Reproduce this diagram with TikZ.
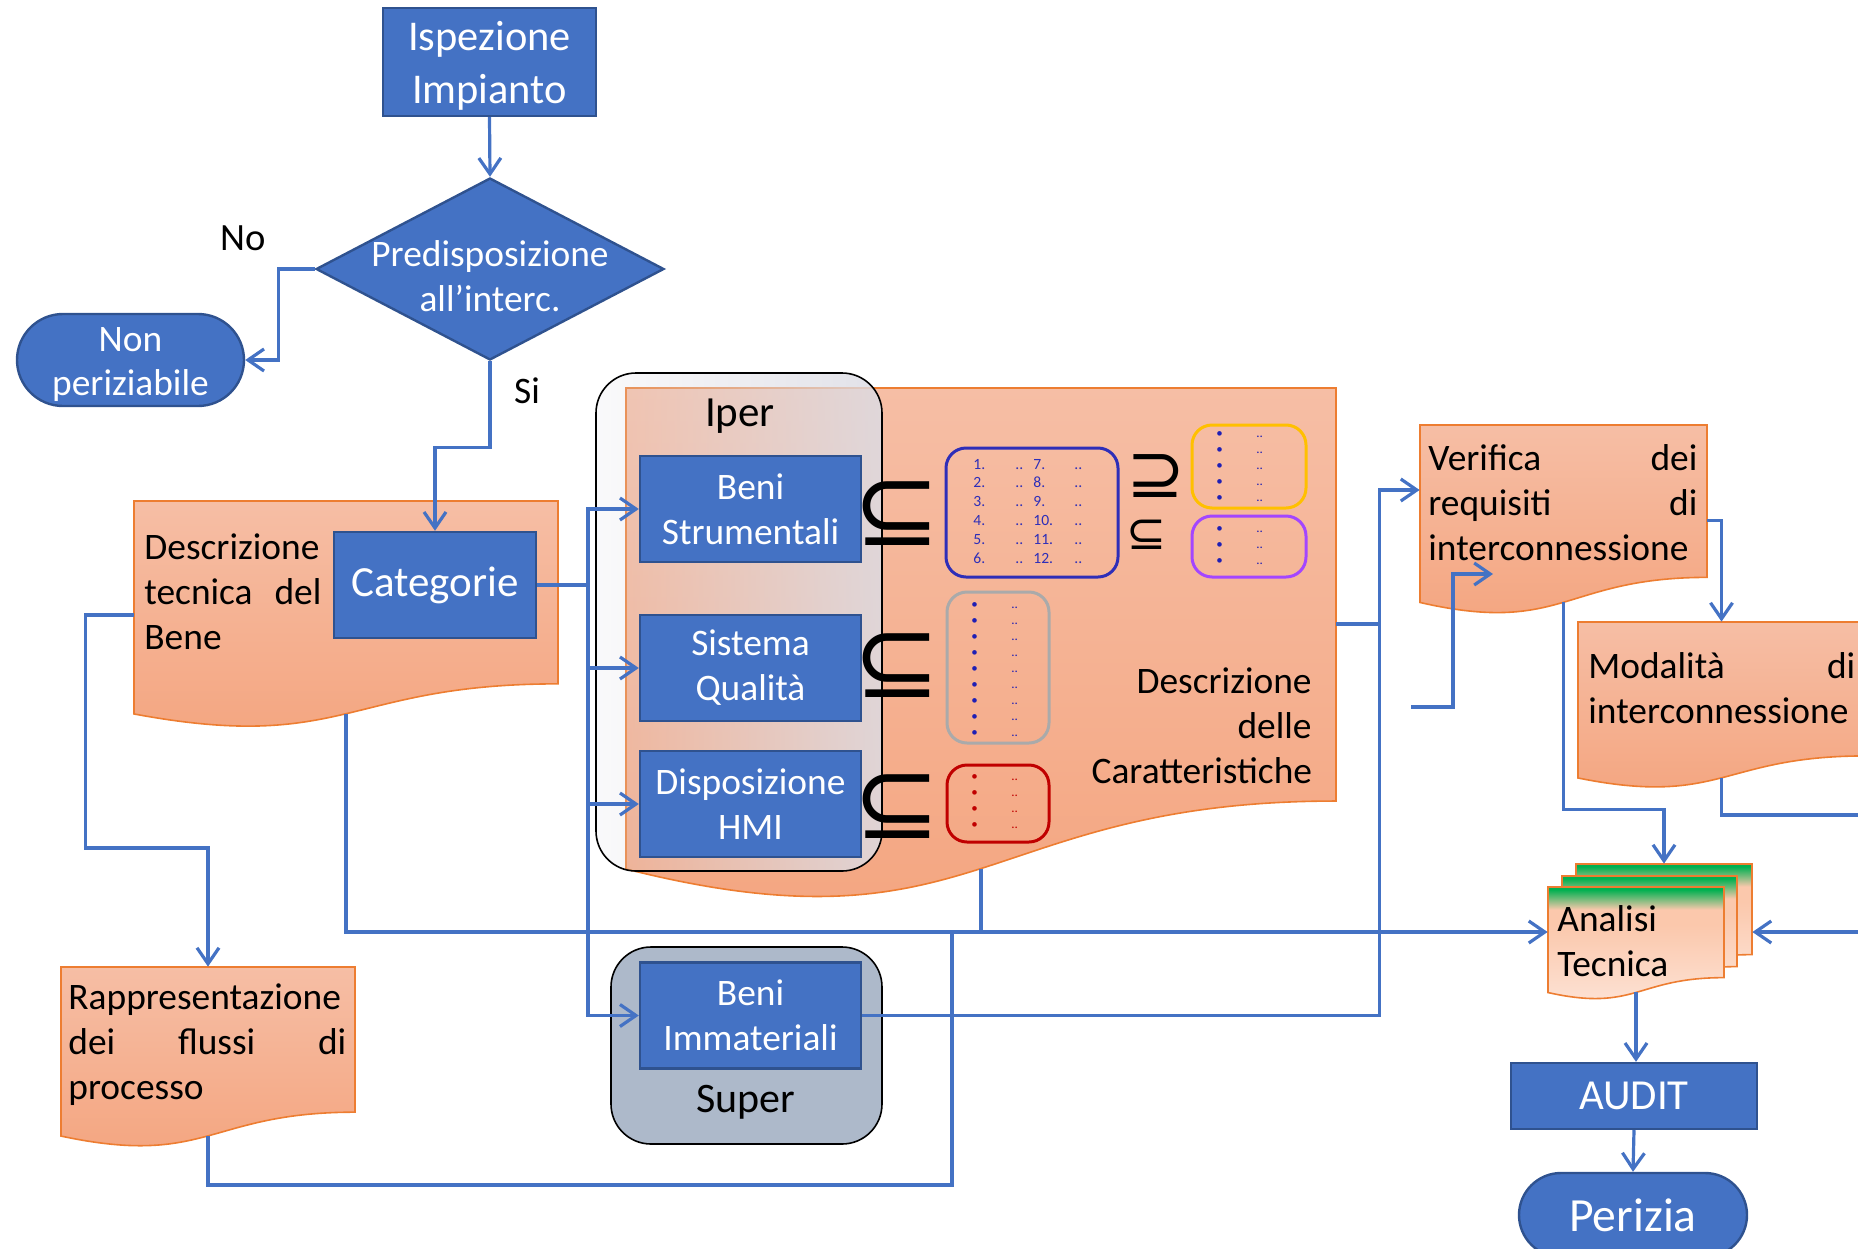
\documentclass[tikz,border=0pt]{standalone}
\usepackage{fontspec}
\setmainfont{Carlito}
\newfontfamily\symfont{DejaVu Sans}
\usetikzlibrary{arrows.meta,shapes.geometric,fit,fadings}

\definecolor{boxblue}{HTML}{4472C4}
\definecolor{boxedge}{HTML}{2F528F}
\definecolor{docline}{HTML}{ED7D31}
\definecolor{doctop}{HTML}{F6BEA5}
\definecolor{docbot}{HTML}{F4A47E}
\definecolor{iperfill}{HTML}{DCDCE4}
\definecolor{superfill}{HTML}{ADB9CA}
\definecolor{listblue}{HTML}{2E2EB8}
\definecolor{dotblue}{HTML}{1F1FB4}
\definecolor{listgold}{HTML}{FFC000}
\definecolor{listviolet}{HTML}{A346FF}
\definecolor{listgray}{HTML}{AAAAAA}
\definecolor{listred}{HTML}{C00000}
\definecolor{anagreen}{HTML}{00B050}
\definecolor{anapeach}{HTML}{FBC8AC}
\definecolor{analight}{HTML}{FDE5D9}

\pgfdeclareverticalshading{anashade}{100bp}{color(0bp)=(analight); color(25bp)=(analight); color(60bp)=(anapeach); color(66bp)=(anapeach); color(70bp)=(anagreen!50!anapeach); color(74bp)=(anagreen); color(100bp)=(anagreen)}
\tikzfading[name=iperfade, left color=transparent!85, right color=transparent!15]

% wavy document: name, style, x, y, w, h
\newcommand{\docshape}[6]{%
  \path[#2] (#3,#4) -- (#3+#5,#4) -- (#3+#5,#4+0.802*#6)
    .. controls (#3+0.5*#5,#4+0.802*#6) and (#3+0.5*#5,#4+1.1075*#6)
    .. (#3,#4+0.934*#6) coordinate[pos=0.5] (#1-mid) -- cycle;}
\newcommand{\lrow}[2]{\makebox[21pt][l]{#1}\makebox[9pt][l]{..}\makebox[20.5pt][l]{#2}..}
\newcommand{\brow}{\makebox[20pt][l]{\textbullet}..}

\tikzset{
  blubox/.style={rectangle, draw=boxedge, fill=boxblue, line width=1.2pt, text=white, align=center, inner sep=0pt, font=\fontsize{18.7}{22.5}\selectfont},
  doc/.style={draw=docline, line width=0.8pt, top color=doctop, bottom color=docbot},
  anadoc/.style={draw=docline, line width=0.8pt, shade, shading=anashade},
  area/.style={inner sep=0pt, draw=none},
  doctext/.style={inner sep=0pt, align=left, anchor=base west, font=\fontsize{18.7}{22.5}\selectfont},
  listbox/.style={rectangle, rounded corners=10pt, line width=1.5pt, inner sep=0pt},
  listtext/.style={inner sep=0pt, align=left, anchor=base west, text=dotblue, font=\fontsize{6.5}{8}\selectfont},
  bigsym/.style={inner sep=0pt, font=\symfont\fontsize{52}{52}\selectfont},
  label/.style={inner sep=0pt, font=\fontsize{18.7}{22.5}\selectfont},
  link/.style={draw=boxblue, line width=1.6pt},
  arr/.style={link, -{Straight Barb[length=8pt,width=11pt]}},
}

\begin{document}
\begin{tikzpicture}[x=0.5pt,y=-0.5pt]
\path[use as bounding box, clip] (0,0) rectangle (1858,1248);

% documents
\docshape{desctec}{doc}{134}{501}{424}{228}
\docshape{caratt}{doc}{626}{388}{710}{515}
\docshape{verif}{doc}{1420}{425}{287}{190}
\docshape{modal}{doc}{1578}{622}{287}{167}
\docshape{rappr}{doc}{61}{967}{294}{181}
\docshape{anaB}{anadoc}{1576}{864}{176}{113}
\docshape{anaM}{anadoc}{1562}{876}{175}{113}
\docshape{ana}{anadoc}{1548}{887}{176}{113}

\node[area, fit={(134,501) (558,729)}] (desctec) {};
\node[area, fit={(626,388) (1336,860)}] (caratt) {};
\node[area, fit={(1420,425) (1707,555)}] (verif) {};
\node[area, fit={(1578,622) (1865,756)}] (modal) {};
\node[area, fit={(61,967) (355,1112)}] (rappr) {};
\node[area, fit={(1576,864) (1752,1000)}] (anaB) {};
\node[area, fit={(1548,887) (1724,977)}] (ana) {};

\node[doctext, text width=88.5pt] (desctecT) at (144,559) {Descrizione\\tecnica\hfill del\\Bene};
\node[doctext, text width=110pt, align=right, anchor=base east] (carattT) at (1312,693) {Descrizione\\delle\\Caratteristiche};
\node[doctext, text width=134.5pt] (verifT) at (1428,470) {Verifica\hfill dei\\requisiti\hfill di\\interconnessione};
\node[doctext, text width=133.5pt] (modalT) at (1588,678) {Modalità\hfill di\\interconnessione};
\node[doctext, text width=139pt] (rapprT) at (68,1009) {Rappresentazione\\dei\hfill flussi\hfill di\\processo};
\node[doctext, text width=80pt] (anaT) at (1557,931) {Analisi\\Tecnica};

% Iper / Super groups
\node[rectangle, rounded corners=20pt, minimum width=143pt, minimum height=249pt, draw=black, line width=0.8pt,
  preaction={fill=iperfill, path fading=iperfade}] (iper) at (739,622) {};
\node[label, anchor=base, font=\fontsize{21.5}{25}\selectfont] (iperT) at (740,426) {Iper};
\node[rectangle, rounded corners=20pt, minimum width=135.5pt, minimum height=98.5pt, draw=black, line width=0.8pt, fill=superfill] (super) at (746.5,1045.5) {};
\node[label, anchor=base, font=\fontsize{21}{25}\selectfont] (superT) at (746,1112) {Super};

% flow boxes
\node[blubox, minimum width=106.5pt, minimum height=54pt, font=\fontsize{21.2}{26.5}\selectfont] (isp) at (489.5,62) {\rule{0pt}{18.5pt}Ispezione\\Impianto};
\node[diamond, draw=boxedge, fill=boxblue, line width=1.2pt, minimum width=174pt, minimum height=91pt, inner sep=0pt] (pred) at (490,269) {};
\node[label, text=white, align=center] (predT) at ([yshift=-3.5pt]pred.center) {Predisposizione\\all’interc.};
\node[blubox, rounded corners=23pt, minimum width=113.5pt, minimum height=46pt, font=\fontsize{18.7}{22}\selectfont] (non) at (130.5,360) {\rule{0pt}{17pt}Non\\periziabile};
\node[blubox, minimum width=101pt, minimum height=53pt, font=\fontsize{21.5}{26}\selectfont] (cat) at (435,585) {Categorie};
\node[blubox, minimum width=110.5pt, minimum height=53pt] (benistr) at (750.5,509) {Beni\\Strumentali};
\node[blubox, minimum width=110.5pt, minimum height=53pt] (sisq) at (750.5,668) {Sistema\\Qualità};
\node[blubox, minimum width=110.5pt, minimum height=53pt] (hmi) at (750.5,804) {Disposizione\\HMI};
\node[blubox, minimum width=110.5pt, minimum height=53pt] (beniimm) at (750.5,1015.5) {Beni\\Immateriali};
\node[blubox, minimum width=123pt, minimum height=33pt, font=\fontsize{21.4}{25}\selectfont] (audit) at (1634,1096) {AUDIT};
\node[blubox, rounded corners=21pt, minimum width=114pt, minimum height=42pt, font=\fontsize{23.8}{28}\selectfont] (perizia) at (1633,1215) {Perizia};

\node[label, font=\fontsize{19.3}{23}\selectfont] (no) at (243,238) {No};
\node[label] (si) at (527,391) {Si};

% lists
\node[listbox, draw=listblue, minimum width=86pt, minimum height=64.5pt] (lstA) at (1032,512.5) {};
\node[listtext, text=listblue, text width=62pt, font=\fontsize{7.8}{9.4}\selectfont] (lstAT) at (973,469)
  {\lrow{1.}{7.}\\\lrow{2.}{8.}\\\lrow{3.}{9.}\\\lrow{4.}{10.}\\\lrow{5.}{11.}\\\lrow{6.}{12.}};
\node[listbox, draw=listgold, minimum width=57pt, minimum height=41.5pt] (lstB) at (1249,466.5) {};
\node[listtext, text width=30pt] (lstBT) at (1216,437) {\brow\\\brow\\\brow\\\brow\\\brow};
\node[listbox, draw=listviolet, minimum width=57pt, minimum height=30.5pt] (lstC) at (1249,546.5) {};
\node[listtext, text width=30pt] (lstCT) at (1216,532) {\brow\\\brow\\\brow};
\node[listbox, draw=listgray, minimum width=51pt, minimum height=75.5pt] (lstD) at (998,667.5) {};
\node[listtext, text width=30pt] (lstDT) at (971,608) {\brow\\\brow\\\brow\\\brow\\\brow\\\brow\\\brow\\\brow\\\brow};
\node[listbox, draw=listred, minimum width=51pt, minimum height=38.5pt] (lstE) at (998,803.5) {};
\node[listtext, text=listred, text width=30pt] (lstET) at (971,780) {\brow\\\brow\\\brow\\\brow};

\node[bigsym] (subA) at (897,514) {⊆};
\node[bigsym] (subB) at (897,665.5) {⊆};
\node[bigsym] (subC) at (897,806.5) {⊆};
\node[inner sep=0pt, font=\symfont\fontsize{35}{35}\selectfont] (supS) at (1156,476) {⊇};
\node[inner sep=0pt, font=\symfont\fontsize{24}{24}\selectfont] (subS) at (1147,535) {⊆};

% connectors
\draw[arr] (isp.south) -- (pred.north);
\draw[arr] (pred.west) -- ++(-36,0) |- (non.east); % No
\draw[arr] (pred.south) -- ++(0,86) -| (cat.north); % Si
\coordinate (fork) at (588,585);
\draw[link] (cat.east) -- (fork);
\draw[arr] (fork) |- (benistr.west);
\draw[arr] (fork) |- (sisq.west);
\draw[arr] (fork) |- (hmi.west);
\draw[arr] (fork) |- (beniimm.west);
\draw[arr] (desctec.west) -- ++(-48,0) -- ++(0,233) -| (rappr.north);
\draw[arr] (desctec-mid) |- (ana.west);
\draw[link] (caratt-mid) -- (caratt-mid |- ana.west);
\coordinate (joinR) at (952,932);
\draw[link] (rappr-mid) -- ++(0,49) -| (joinR);
\draw[link] (caratt.east) -- ++(42,0);
\draw[arr] (beniimm.east) -- ++(517,0) |- (verif.west);
\coordinate (loose) at (1411,707);
\coordinate (looseend) at (1493,574);
\draw[arr] (loose) -- ++(42,0) |- (looseend);
\draw[arr] (verif.north east) ++(0,96) -| (modal.north);
\coordinate (offA) at (1870,815);
\draw[link] (modal-mid) |- (offA);
\coordinate (offB) at (1870,932);
\draw[arr] (offB) -- (anaB.east);
\draw[arr] (verif-mid) -- ++(0,207) -| (anaB.north);
\draw[arr] (ana-mid) -- (ana-mid |- audit.north);
\draw[arr] (audit.south) -- (perizia.north);
\end{tikzpicture}
\end{document}
